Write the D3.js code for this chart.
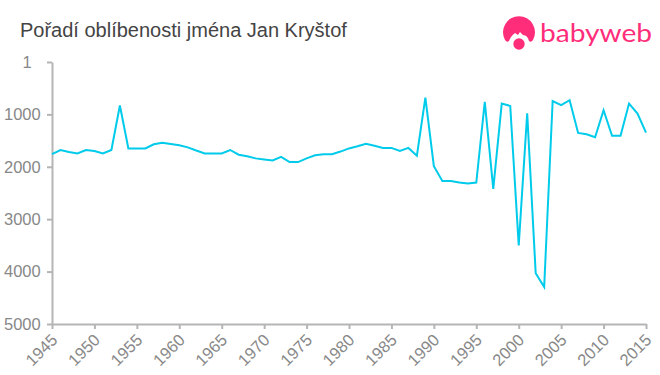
<!DOCTYPE html>
<html>
<head>
<meta charset="utf-8">
<script src="https://cdn.jsdelivr.net/npm/d3@7/dist/d3.min.js"></script>
<style>
    html, body { margin: 0; padding: 0; background: #fff; }
    svg { display: block; font-family: "Liberation Sans", Arial, sans-serif; }
    .axis path, .axis line { stroke: #b5b5b5; stroke-width: 2; }
    .axis text { fill: #888; font-size: 16.5px; }
</style>
</head>
<body>
<div id="chart"></div>
<script>
const chartTitle = 'Pořadí oblíbenosti jména Jan Kryštof';
const years = d3.range(1945, 2016);
const ranks = [
    1760, 1680, 1720, 1745, 1680, 1700, 1745, 1680, 830, 1650,
    1650, 1650, 1570, 1540, 1565, 1590, 1630, 1690, 1745, 1745,
    1745, 1680, 1770, 1800, 1840, 1860, 1880, 1810, 1910, 1910,
    1840, 1780, 1760, 1760, 1710, 1650, 1610, 1560, 1600, 1640,
    1640, 1700, 1640, 1790, 680, 1990, 2270, 2270, 2300, 2320,
    2300, 760, 2420, 795, 840, 3500, 980, 4030, 4295, 745,
    825, 730, 1355, 1380, 1437, 920, 1410, 1410, 795, 985,
    1350
];
const xTicks = d3.range(1945, 2016, 5);
const yTicks = [1, 1000, 2000, 3000, 4000, 5000];

const width = 660, height = 375;
const margin = { top: 62, right: 14, bottom: 51, left: 52 };

const svg = d3.select('#chart').append('svg')
    .attr('width', width)
    .attr('height', height);

svg.append('text')
    .attr('x', 20)
    .attr('y', 37)
    .attr('fill', '#444')
    .style('font-size', '20px')
    .text(chartTitle);

const x = d3.scaleLinear()
    .domain([1945, 2015])
    .range([margin.left, width - margin.right]);

const y = d3.scaleLinear()
    .domain([1, 5000])
    .range([margin.top, height - margin.bottom]);

svg.append('g')
    .attr('class', 'x axis')
    .attr('transform', `translate(0,${height - margin.bottom})`)
    .call(d3.axisBottom(x).tickValues(xTicks).tickFormat(d3.format('d')).tickSize(5).tickSizeOuter(0))
    .selectAll('text')
    .style('text-anchor', 'end')
    .attr('x', 0)
    .attr('y', 0)
    .attr('dy', '0.35em')
    .attr('transform', 'translate(2,13) rotate(-45)');

svg.append('g')
    .attr('class', 'y axis')
    .attr('transform', `translate(${margin.left},0)`)
    .call(d3.axisLeft(y).tickValues(yTicks).tickFormat(d3.format('d')).tickSize(5).tickSizeOuter(0))
    .selectAll('text')
    .attr('dx', d => d === 1 ? '-0.75em' : '-0.2em');

const line = d3.line()
    .x((d, i) => x(years[i]))
    .y(d => y(d));

svg.append('path')
    .datum(ranks)
    .attr('fill', 'none')
    .attr('stroke', '#00cbea')
    .attr('stroke-width', 2)
    .attr('stroke-linejoin', 'miter')
    .attr('d', line);

// logo
const logo = svg.append('g').attr('fill', '#ff2d7a');
logo.append('path')
    .attr('d', 'M505 40 A16 16 0 1 1 533 40 Q531 43 529 41 C528 37 526 35 523 35 L520 32 L518 35 L515 33 C512 35 510 38 509 41 Q507 43 505 40 Z');
logo.append('circle').attr('cx', 519).attr('cy', 44).attr('r', 5.7);
logo.append('text')
    .attr('x', 540)
    .attr('y', 42)
    .attr('textLength', 112)
    .attr('lengthAdjust', 'spacingAndGlyphs')
    .style('font-family', 'Lato, "Open Sans", sans-serif')
    .style('font-size', '25px')
    .text('babyweb');
</script>
</body>
</html>
